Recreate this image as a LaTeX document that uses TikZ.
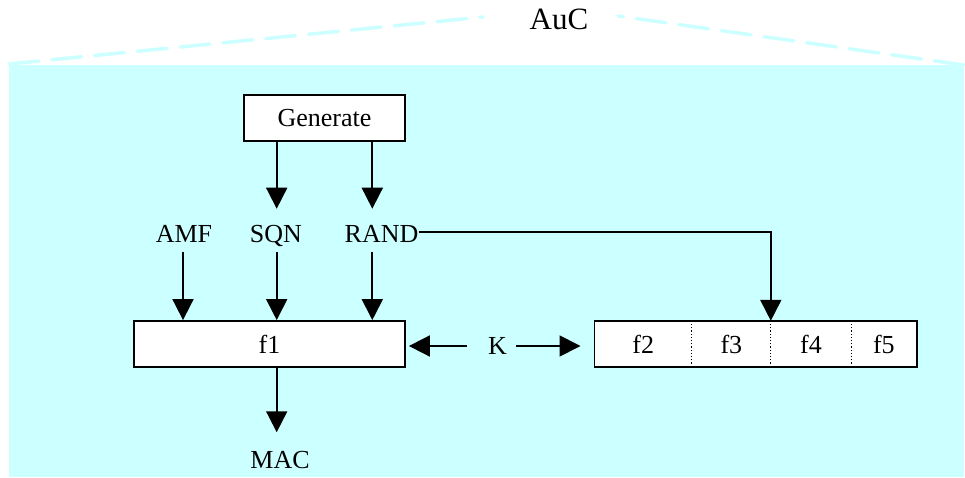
\documentclass[tikz,border=0pt]{standalone}
\usepackage{fontspec}
\setmainfont{Liberation Serif}
\usetikzlibrary{arrows.meta,calc}
\definecolor{auc}{HTML}{CCFFFF}
\begin{document}
\begin{tikzpicture}[x=1pt,y=-1pt,
  txt/.style={font=\fontsize{26}{30}\selectfont},
  box/.style={txt,draw=black,fill=white,line width=1.8pt,inner sep=0pt,minimum height=46pt},
  lbl/.style={txt,inner sep=0pt,text height=17.7pt,text depth=0pt},
  cell/.style={txt,fill=white,inner sep=0pt,minimum height=46pt,anchor=west},
  arr/.style={line width=1.8pt,-{Triangle[width=21pt,length=21pt]}},
  divider/.style={line width=1pt,dash pattern=on 1.2pt off 2pt},
  dash line/.style={draw=auc,line width=3.5pt,line cap=round,dash pattern=on 30pt off 13pt}]
\useasboundingbox (0,0) rectangle (965,478);
% background region
\fill[auc] (9,65) rectangle (964,477);
% title and dashed roof
\node[font=\fontsize{31}{36}\selectfont,inner sep=0pt] (auc) at (559,19) {AuC};
\coordinate (dl1) at (9,64);
\coordinate (dl2) at (483,17);
\coordinate (dr1) at (618,16);
\coordinate (dr2) at (964,65);
\draw[dash line] (dl1) -- (dl2);
\draw[dash line] (dr2) -- (dr1);
% columns
\coordinate (colA) at (183,0);
\coordinate (colB) at (276.7,0);
\coordinate (colC) at (372.3,0);
% nodes
\node[box,minimum width=161pt] (gen) at (324.5,118) {Generate};
\node[lbl] (amf) at (184,233.8) {AMF};
\node[lbl] (sqn) at (276,233.8) {SQN};
\node[lbl] (rand) at (381.5,233.8) {RAND};
\node[box,minimum width=271pt] (f1) at (269.5,344) {f1};
\node[lbl] (k) at (497.5,346) {K};
\node[lbl] (mac) at (280,460) {MAC};
\node[cell,minimum width=97pt] (f2) at (594.5,344) {f2};
\node[cell,minimum width=78.5pt] (f3) at (f2.east) {f3};
\node[cell,minimum width=80pt] (f4) at (f3.east) {f4};
\node[cell,minimum width=65pt] (f5) at (f4.east) {f5};
\draw[line width=1.8pt] (f2.north west) rectangle (f5.south east);
\draw[divider] (f2.north east) -- (f2.south east);
\draw[divider] (f3.north east) -- (f3.south east);
\draw[divider] (f4.north east) -- (f4.south east);
% connectors
\draw[arr] (gen.south -| colB) -- ($(colB |- sqn.north)+(0,-16)$);
\draw[arr] (gen.south -| colC) -- ($(colC |- rand.north)+(0,-16)$);
\draw[arr] ($(colA |- amf.south)+(0,9.3)$) -- (colA |- f1.north);
\draw[arr] ($(colB |- sqn.south)+(0,9.3)$) -- (colB |- f1.north);
\draw[arr] ($(colC |- rand.south)+(0,9.3)$) -- (colC |- f1.north);
\draw[arr] ($(rand.east)+(0,-2)$) -| (f3.north east);
\draw[arr] (f1.south -| colB) -- ($(colB |- mac.north)+(0,-18.7)$);
\draw[arr] ($(k.west)+(-21,0)$) -- ($(k.west -| f1.east)+(3,0)$);
\draw[arr] ($(k.east)+(9,0)$) -- ($(k.east -| f2.west)+(-14,0)$);
\end{tikzpicture}
\end{document}
